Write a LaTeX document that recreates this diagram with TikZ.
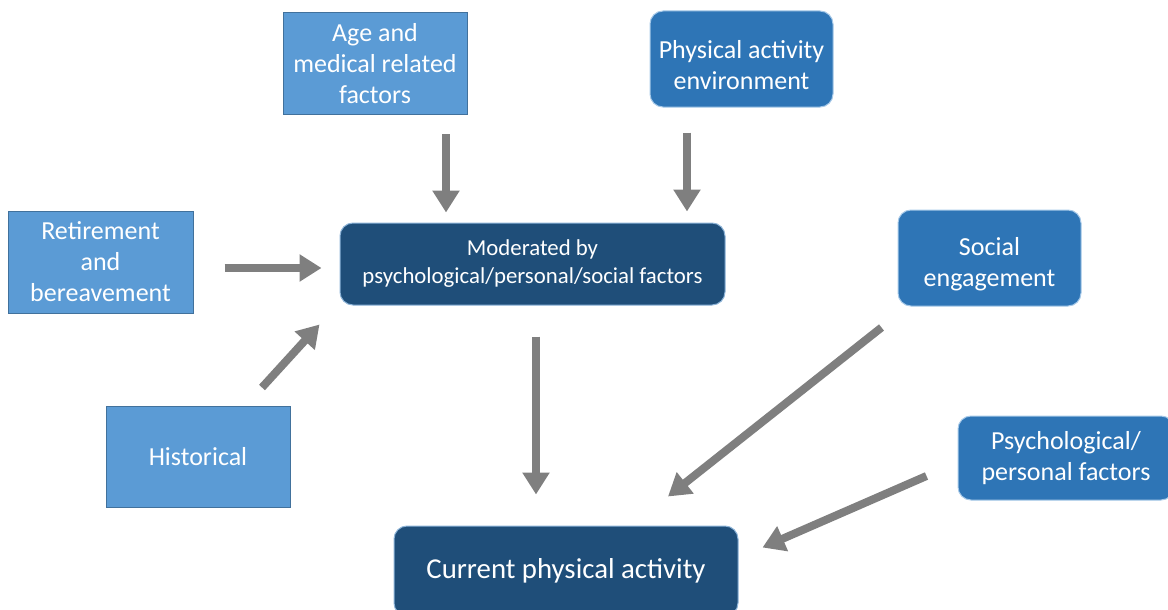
\documentclass[tikz,border=0pt]{standalone}
\usepackage{fontspec}
\setmainfont{Carlito}
\usetikzlibrary{arrows.meta, positioning}
\definecolor{lightbox}{HTML}{5B9BD5}
\definecolor{lightedge}{HTML}{41719C}
\definecolor{midbox}{HTML}{2E75B6}
\definecolor{darkbox}{HTML}{1F4E79}
\definecolor{arrowgray}{HTML}{7F7F7F}
\tikzset{
  factor/.style = {rectangle, draw=lightedge, line width=1pt, fill=lightbox, text=white, align=center, inner sep=0pt, font=\fontsize{26}{31}\selectfont},
  soft/.style   = {factor, draw=lightbox!55, fill=midbox, rounded corners=13pt},
  core/.style   = {soft, draw=midbox!55, fill=darkbox},
  flow/.style   = {line width=8pt, arrowgray, -{Triangle[length=22pt,width=26pt]}}
}

\begin{document}
\begin{tikzpicture}[x=1pt, y=-1pt]
  \useasboundingbox (0,0) rectangle (1168,610);

  % centro
  \node[core, minimum width=385pt, minimum height=82pt, font=\fontsize{22.8}{28}\selectfont]
        (moder) at (532.5,264) {Moderated by\\psychological/personal/social factors};
  \node[core, minimum width=344pt, minimum height=90pt, font=\fontsize{28.8}{32}\selectfont]
        (current) at (566,571) {Current physical activity};

  % fattori (sopra e sinistra)
  \node[factor, minimum width=184pt, minimum height=102pt] (age)    at (375,63.5)  {Age and\\medical related\\factors};
  \node[soft,   minimum width=183pt, minimum height=96pt, text height=62pt] (paenv) at (741.5,59) {Physical activity\\environment};
  \node[factor, minimum width=185pt, minimum height=102pt] (retire) at (100.5,262) {Retirement\\and\\bereavement};
  \node[factor, minimum width=184pt, minimum height=101pt] (hist)   at (198,456.5) {Historical};

  % fattori (destra)
  \node[soft, minimum width=183pt, minimum height=96pt, text height=62pt] (social) at (989.5,258) {Social\\engagement};
  \node[soft, minimum width=216pt, minimum height=84pt] (psych)  at (1066,458)  {Psychological/\\personal factors};

  \draw[flow, shorten <=19pt, shorten >=10pt] ([xshift=71pt]age.south) -- ([xshift=71pt]age.south |- moder.north);
  \draw[flow, shorten <=25pt, shorten >=11pt] ([xshift=-54.5pt]paenv.south) -- ([xshift=-54.5pt]paenv.south |- moder.north);
  \draw[flow, shorten <=31pt, shorten >=18pt] ([yshift=-6pt]retire.east) -- ([yshift=-6pt]retire.east -| moder.west);
  \draw[flow] ([xshift=64pt,yshift=18pt]hist.north) -- ([xshift=-20pt,yshift=-19pt]moder.south west);

  \draw[flow, shorten <=31pt, shorten >=31pt] ([xshift=3.5pt]moder.south) -- ([xshift=3.5pt]moder.south |- current.north);
  \draw[flow] ([xshift=-16pt,yshift=-21pt]social.south west) -- ([xshift=102pt,yshift=29pt]current.north);
  \draw[flow] ([xshift=-31pt,yshift=-18pt]psych.west) -- ([xshift=24pt,yshift=-22pt]current.north east);

\end{tikzpicture}
\end{document}
